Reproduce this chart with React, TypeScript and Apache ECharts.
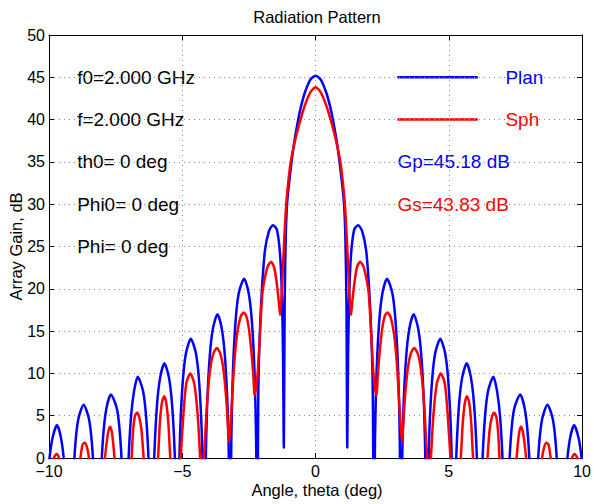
import React, { useEffect, useRef } from "react";
import * as echarts from "echarts";

const TITLE = "Radiation Pattern";
const X_NAME = "Angle, theta (deg)";
const Y_NAME = "Array Gain, dB";
const X_MIN = -10, X_MAX = 10, X_STEP = 5;
const Y_MIN = 0, Y_MAX = 50, Y_STEP = 5;

// Planar array gain (blue), [theta deg, dB]
const planPoints: number[][] = [
  [-10,-0.5],[-9.88,2.2],[-9.7,3.9],[-9.54,2.2],[-9.42,-1.1],[-9.32,-7.1],[-9.26,-15.1],
  [-9.22,-16],[-9.18,-12.7],[-9.12,-4.7],[-9.02,1.3],[-8.9,4.6],[-8.7,6.3],[-8.5,4.6],[-8.38,1.3],[-8.28,-4.7],[-8.22,-12.7],
  [-8.18,-16],[-8.14,-11.5],[-8.07,-3.5],[-7.97,2.5],[-7.85,5.8],[-7.68,7.5],[-7.45,5.8],[-7.33,2.5],[-7.23,-3.5],[-7.17,-11.5],
  [-7.13,-16],[-7.09,-9.4],[-7.03,-1.4],[-6.93,4.6],[-6.81,7.9],[-6.67,9.6],[-6.47,7.9],[-6.35,4.6],[-6.25,-1.4],[-6.19,-9.4],
  [-6.15,-16],[-6.11,-7.8],[-6.05,0.2],[-5.95,6.2],[-5.83,9.5],[-5.67,11.2],[-5.5,9.5],[-5.38,6.2],[-5.28,0.2],[-5.22,-7.8],
  [-5.18,-16],[-5.14,-4.9],[-5.08,3.1],[-4.98,9.1],[-4.86,12.4],[-4.68,14.1],[-4.49,12.4],[-4.37,9.1],[-4.27,3.1],[-4.21,-4.9],
  [-4.17,-16],[-4.13,-2],[-4.07,6],[-3.97,12],[-3.85,15.3],[-3.68,17.0],[-3.52,15.3],[-3.4,12],[-3.3,6],[-3.24,-2],
  [-3.2,-16],[-3.16,2.2],[-3.1,10.2],[-3.0,16.2],[-2.88,19.5],[-2.68,21.2],[-2.51,19.5],[-2.39,16.2],[-2.29,10.2],[-2.23,2.2],
  [-2.19,-15],[-2.15,7],[-2.1,14],[-2.02,19.5],[-1.9,24.5],[-1.75,26.8],[-1.6,27.5],[-1.45,27],[-1.33,24],[-1.26,19],[-1.22,12],
  [-1.19,1.2],[-1.16,18],[-1.12,26],[-1.07,30],[-1.0,32.3],[-0.9,35],[-0.8,37.3],[-0.65,40],[-0.55,41.5],[-0.4,43.2],[-0.2,44.7],
  [0,45.18],[0.2,44.7],[0.4,43.2],[0.55,41.5],[0.65,40],[0.8,37.3],[0.9,35],[1.0,32.3],[1.07,30],[1.12,26],[1.16,18],[1.19,1.2],
  [1.22,12],[1.26,19],[1.33,24],[1.45,27],[1.6,27.5],[1.75,26.8],[1.9,24.5],[2.02,19.5],[2.1,14],[2.15,7],[2.19,-15],
  [2.23,2.2],[2.29,10.2],[2.39,16.2],[2.51,19.5],[2.68,21.2],[2.88,19.5],[3.0,16.2],[3.1,10.2],[3.16,2.2],[3.2,-16],
  [3.24,-2],[3.3,6],[3.4,12],[3.52,15.3],[3.68,17.0],[3.85,15.3],[3.97,12],[4.07,6],[4.13,-2],[4.17,-16],
  [4.21,-4.9],[4.27,3.1],[4.37,9.1],[4.49,12.4],[4.68,14.1],[4.86,12.4],[4.98,9.1],[5.08,3.1],[5.14,-4.9],[5.18,-16],
  [5.22,-7.8],[5.28,0.2],[5.38,6.2],[5.5,9.5],[5.67,11.2],[5.83,9.5],[5.95,6.2],[6.05,0.2],[6.11,-7.8],[6.15,-16],
  [6.19,-9.4],[6.25,-1.4],[6.35,4.6],[6.47,7.9],[6.67,9.6],[6.81,7.9],[6.93,4.6],[7.03,-1.4],[7.09,-9.4],[7.13,-16],
  [7.17,-11.5],[7.23,-3.5],[7.33,2.5],[7.45,5.8],[7.68,7.5],[7.85,5.8],[7.97,2.5],[8.07,-3.5],[8.14,-11.5],[8.18,-16],
  [8.22,-12.7],[8.28,-4.7],[8.38,1.3],[8.5,4.6],[8.7,6.3],[8.9,4.6],[9.02,1.3],[9.12,-4.7],[9.18,-12.7],[9.22,-16],
  [9.26,-15.1],[9.32,-7.1],[9.42,-1.1],[9.54,2.2],[9.7,3.9],[9.88,2.2],[10,-0.5],
];

// Spherical array gain (red), [theta deg, dB]
const sphPoints: number[][] = [
  [-10,-10],[-9.9,-3],[-9.82,0],[-9.77,0.3],[-9.72,0.47],[-9.68,0.4],[-9.62,0],[-9.55,-2],[-9.4,-8],
  [-9.22,-20],[-9.05,-10],[-8.92,-3],[-8.82,0],[-8.74,1.6],[-8.66,1.8],[-8.57,1.2],[-8.5,0],[-8.42,-3],[-8.3,-10],
  [-8.18,-20],[-8.1,-12],[-8.0,-4],[-7.9,0],[-7.83,2],[-7.77,3.2],[-7.71,3.7],[-7.65,3.2],[-7.6,2],[-7.54,0],[-7.4,-4],[-7.25,-12],
  [-7.13,-20],[-7.08,-14],[-7.0,-6],[-6.9,0],[-6.85,3],[-6.78,4.9],[-6.7,5.36],[-6.62,4.9],[-6.53,3.3],[-6.45,0],[-6.32,-6],[-6.22,-14],
  [-6.15,-20],[-6.1,-12],[-6.0,-4],[-5.9,0.5],[-5.84,4.2],[-5.76,6.6],[-5.68,7.3],[-5.6,6.5],[-5.52,4],[-5.45,0],[-5.35,-4],[-5.25,-12],
  [-5.18,-15],[-5.12,-5],[-5.06,0],[-4.96,5],[-4.85,8.8],[-4.7,10],[-4.55,8.8],[-4.42,5],[-4.33,0],[-4.26,-5],
  [-4.22,-10],[-4.19,0],[-4.15,2],[-4.08,6],[-3.98,9.8],[-3.85,12.2],[-3.7,13.0],[-3.57,12.3],[-3.45,10.3],[-3.35,7],[-3.29,4],
  [-3.25,1.9],[-3.2,3.5],[-3.13,7],[-3.05,11.2],[-2.95,14.5],[-2.82,16.6],[-2.7,17.2],[-2.6,16.8],[-2.5,15.3],[-2.4,12.3],[-2.33,9.5],
  [-2.29,7.4],[-2.22,8.5],[-2.16,10.5],[-2.08,15],[-2.0,19.3],[-1.92,21],[-1.8,22.6],[-1.67,23.2],[-1.55,22.5],[-1.45,20.5],[-1.38,18.5],
  [-1.33,16.9],[-1.26,20],[-1.18,25.5],[-1.1,30],[-1.0,33.3],[-0.93,35],[-0.8,37.1],[-0.6,39.6],[-0.4,41.7],[-0.2,43.2],
  [0,43.83],[0.2,43.2],[0.4,41.7],[0.6,39.6],[0.8,37.1],[0.93,35],[1.0,33.3],[1.1,30],[1.18,25.5],[1.26,20],[1.33,16.9],
  [1.38,18.5],[1.45,20.5],[1.55,22.5],[1.67,23.2],[1.8,22.6],[1.92,21],[2.0,19.3],[2.08,15],[2.16,10.5],[2.22,8.5],[2.29,7.4],
  [2.33,9.5],[2.4,12.3],[2.5,15.3],[2.6,16.8],[2.7,17.2],[2.82,16.6],[2.95,14.5],[3.05,11.2],[3.13,7],[3.2,3.5],[3.25,1.9],
  [3.29,4],[3.35,7],[3.45,10.3],[3.57,12.3],[3.7,13.0],[3.85,12.2],[3.98,9.8],[4.08,6],[4.15,2],[4.19,0],[4.22,-10],
  [4.26,-5],[4.33,0],[4.42,5],[4.55,8.8],[4.7,10],[4.85,8.8],[4.96,5],[5.06,0],[5.12,-5],[5.18,-15],
  [5.25,-12],[5.35,-4],[5.45,0],[5.52,4],[5.6,6.5],[5.68,7.3],[5.76,6.6],[5.84,4.2],[5.9,0.5],[6.0,-4],[6.1,-12],[6.15,-20],
  [6.22,-14],[6.32,-6],[6.45,0],[6.53,3.3],[6.62,4.9],[6.7,5.36],[6.78,4.9],[6.85,3],[6.9,0],[7.0,-6],[7.08,-14],[7.13,-20],
  [7.25,-12],[7.4,-4],[7.54,0],[7.6,2],[7.65,3.2],[7.71,3.7],[7.77,3.2],[7.83,2],[7.9,0],[8.0,-4],[8.1,-12],[8.18,-20],
  [8.3,-10],[8.42,-3],[8.5,0],[8.57,1.2],[8.66,1.8],[8.74,1.6],[8.82,0],[8.92,-3],[9.05,-10],[9.22,-20],
  [9.4,-8],[9.55,-2],[9.62,0],[9.68,0.4],[9.72,0.47],[9.77,0.3],[9.82,0],[9.9,-3],[10,-10],
];

const paramTexts = ["f0=2.000 GHz", "f=2.000 GHz", "th0= 0 deg", "Phi0= 0 deg", "Phi= 0 deg"];
const paramLevels = [45, 40, 35, 30, 25];
const legendNames = ["Plan", "Sph"];
const gainTexts = ["Gp=45.18 dB", "Gs=43.83 dB"];

const BLUE = "#0000ff";
const RED = "#ff0000";
const FONT = "'Liberation Sans', Arial, Helvetica, sans-serif";

const W = 594, H = 504;
const G_LEFT = 49, G_RIGHT = 9, G_TOP = 35, G_BOTTOM = 46;
const PW = W - G_LEFT - G_RIGHT;
const PH = H - G_TOP - G_BOTTOM;
const px = (x: number) => G_LEFT + ((x - X_MIN) / (X_MAX - X_MIN)) * PW;
const py = (y: number) => G_TOP + ((Y_MAX - y) / (Y_MAX - Y_MIN)) * PH;

const fmt = (v: number) => (v < 0 ? "\u2212" + Math.abs(v) : String(v));

export default function App() {
  const ref = useRef<HTMLDivElement>(null);
  useEffect(() => {
    if (!ref.current) return;
    const chart = echarts.init(ref.current, undefined, { renderer: "svg" });
    const axisCommon = {
      type: "value" as const,
      axisLine: { show: true, onZero: false, lineStyle: { color: "#000", width: 1 } },
      axisTick: { show: true, inside: true, length: 5, lineStyle: { color: "#000" } },
    };
    const grid = { color: "#8a8a8a", type: [1, 4], width: 1 };
    const graphic: any[] = [
      { type: "text", x: px(0), y: 16.5, style: { text: TITLE, font: `16.5px ${FONT}`, fill: "#000", textAlign: "center", textVerticalAlign: "middle" } },
      { type: "text", x: px(0), y: 490, style: { text: X_NAME, font: `16.5px ${FONT}`, fill: "#000", textAlign: "center", textVerticalAlign: "middle" } },
      { type: "text", x: 16, y: G_TOP + PH / 2, rotation: Math.PI / 2, style: { text: Y_NAME, font: `16.5px ${FONT}`, fill: "#000", textAlign: "center", textVerticalAlign: "middle" } },
    ];
    paramTexts.forEach((t, i) => {
      graphic.push({ type: "text", x: px(-8.95), y: py(paramLevels[i]), style: { text: t, font: `19px ${FONT}`, fill: "#000", textAlign: "left", textVerticalAlign: "middle" } });
    });
    [BLUE, RED].forEach((c, i) => {
      const yy = py(paramLevels[i]);
      graphic.push({ type: "line", shape: { x1: px(3), y1: yy, x2: px(6), y2: yy }, style: { stroke: c, lineWidth: 2.5 } });
      graphic.push({ type: "text", x: px(7.03), y: yy, style: { text: legendNames[i], font: `19px ${FONT}`, fill: c, textAlign: "left", textVerticalAlign: "middle" } });
      graphic.push({ type: "text", x: px(3), y: py(paramLevels[i + 2]), style: { text: gainTexts[i], font: `19px ${FONT}`, fill: c, textAlign: "left", textVerticalAlign: "middle" } });
    });
    chart.setOption({
      animation: false,
      grid: { left: G_LEFT, right: G_RIGHT, top: G_TOP, bottom: G_BOTTOM, containLabel: false },
      xAxis: [
        { ...axisCommon, position: "bottom", min: X_MIN, max: X_MAX, interval: X_STEP,
          axisLabel: { formatter: fmt, fontSize: 16, lineHeight: 14, color: "#000", fontFamily: FONT, margin: 6 },
          splitLine: { show: true, lineStyle: grid } },
        { ...axisCommon, position: "top", min: X_MIN, max: X_MAX, interval: X_STEP,
          axisLabel: { show: false }, splitLine: { show: false } },
      ],
      yAxis: [
        { ...axisCommon, position: "left", min: Y_MIN, max: Y_MAX, interval: Y_STEP,
          axisLabel: { fontSize: 16, lineHeight: 12, color: "#000", fontFamily: FONT, margin: 4 },
          splitLine: { show: true, lineStyle: grid } },
        { ...axisCommon, position: "right", min: Y_MIN, max: Y_MAX, interval: Y_STEP,
          axisLabel: { show: false }, splitLine: { show: false } },
      ],
      series: [
        { name: "Plan", type: "line", data: planPoints, showSymbol: false, smooth: 0.25, clip: true,
          lineStyle: { color: BLUE, width: 2.5 }, itemStyle: { color: BLUE }, z: 3 },
        { name: "Sph", type: "line", data: sphPoints, showSymbol: false, smooth: 0.25, clip: true,
          lineStyle: { color: RED, width: 2.5 }, itemStyle: { color: RED }, z: 4 },
      ],
      graphic,
    });
    return () => chart.dispose();
  }, []);
  return <div ref={ref} style={{ width: W, height: H, position: "absolute", left: 0, top: 0 }} />;
}
